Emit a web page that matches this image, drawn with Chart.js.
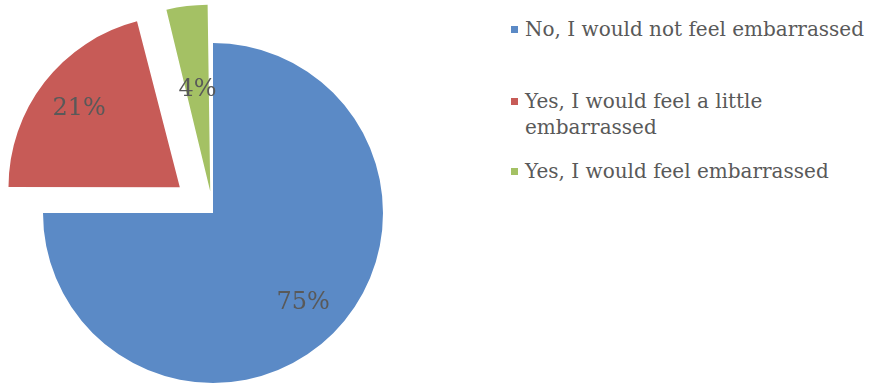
<!DOCTYPE html>
<html>
<head>
<meta charset="utf-8">
<script src="https://cdn.jsdelivr.net/npm/chart.js@4.4.1/dist/chart.umd.min.js"></script>
<style>
    html, body {
        margin: 0;
        padding: 0;
        background: #ffffff;
    }
    #wrap {
        position: relative;
        width: 870px;
        height: 384px;
        overflow: hidden;
    }
    #chart-box {
        position: absolute;
        left: 0;
        top: 0;
        width: 426px;
        height: 384px;
    }
    #legend {
        position: absolute;
        left: 508px;
        top: 16px;
        font-family: "DejaVu Serif", serif;
        font-size: 20px;
        color: #595959;
        line-height: 26px;
    }
    .legend-item {
        padding-left: 17px;
    }
    .legend-item .swatch {
        position: absolute;
        left: 3px;
        top: 10px;
        width: 7px;
        height: 7px;
    }
</style>
</head>
<body>
<div id="wrap">
    <div id="chart-box"><canvas id="pie-chart"></canvas></div>
    <div id="legend"></div>
</div>
<script>
// ===================================
// Data
// ===================================
const categories = [
    'No, I would not feel embarrassed',
    'Yes, I would feel a little embarrassed',
    'Yes, I would feel embarrassed'
];
const legendLines = [
    ['No, I would not feel embarrassed'],
    ['Yes, I would feel a little', 'embarrassed'],
    ['Yes, I would feel embarrassed']
];
const shares = [75, 21, 4];
const sliceColors = ['#5b8ac6', '#c75b57', '#a4c164'];
// Chart.js v4 moves an arc by offset / 4 pixels (thin slices also grow a bit)
const explode = [0, 168, 88];
const labelDistance = [0.75, 0.75, 0.6];
const legendTops = [0, 72, 142];

// Percentage labels drawn on the slices
const sliceLabels = {
    id: 'sliceLabels',
    afterDatasetsDraw(chart) {
        const ctx = chart.ctx;
        const meta = chart.getDatasetMeta(0);
        ctx.save();
        ctx.font = '24px "DejaVu Serif", serif';
        ctx.fillStyle = '#595959';
        ctx.textAlign = 'center';
        ctx.textBaseline = 'middle';
        meta.data.forEach((arc, i) => {
            const mid = (arc.startAngle + arc.endAngle) / 2;
            const dist = arc.options.offset / 4 + labelDistance[i] * arc.outerRadius;
            const x = arc.x + Math.cos(mid) * dist;
            const y = arc.y + Math.sin(mid) * dist;
            ctx.fillText(shares[i] + '%', x, y);
        });
        ctx.restore();
    }
};

const ctx = document.getElementById('pie-chart').getContext('2d');
new Chart(ctx, {
    type: 'pie',
    data: {
        labels: categories,
        datasets: [{
            data: shares,
            backgroundColor: sliceColors,
            borderWidth: 0,
            offset: explode,
            hoverOffset: 0,
            radius: 170,
            clip: false
        }]
    },
    options: {
        responsive: true,
        maintainAspectRatio: false,
        animation: false,
        layout: {
            padding: { top: 42, left: 0, right: 0, bottom: 0 }
        },
        plugins: {
            legend: { display: false },
            tooltip: { enabled: false }
        }
    },
    plugins: [sliceLabels]
});

// HTML legend
const legend = document.getElementById('legend');
legendLines.forEach((lines, i) => {
    const item = document.createElement('div');
    item.className = 'legend-item';
    item.style.position = 'absolute';
    item.style.top = legendTops[i] + 'px';
    item.style.whiteSpace = 'nowrap';
    item.innerHTML = '<span class="swatch" style="background:' + sliceColors[i] + '"></span>' +
        lines.join('<br>');
    legend.appendChild(item);
});
</script>
</body>
</html>
